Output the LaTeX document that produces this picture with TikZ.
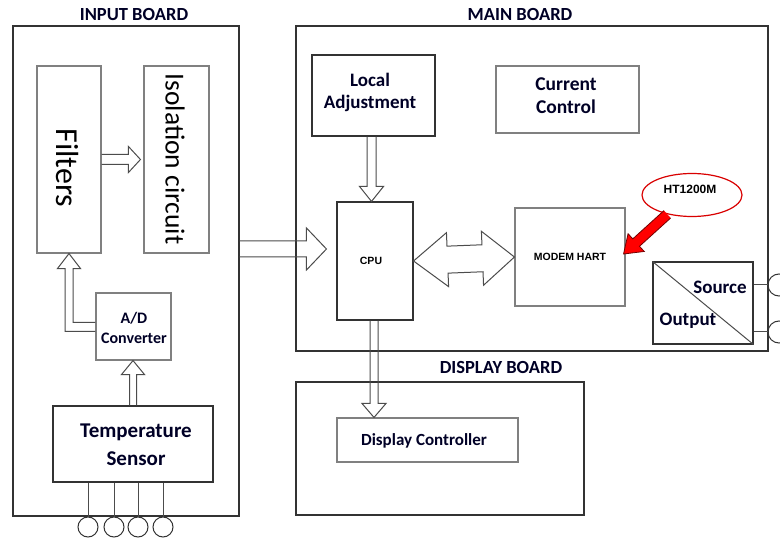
\documentclass[tikz,border=0pt]{standalone}
\usepackage{fontspec}
\setmainfont{Carlito}
\newfontfamily\arialfont{Liberation Sans}
\usetikzlibrary{calc,shapes.geometric}

% hollow block arrow: [style]{start}{tip}{shaft half width}{head half width}{head length}
\newcommand{\blockarrow}[6][]{%
  \coordinate (baS) at #2;
  \coordinate (baE) at #3;
  \coordinate (baH) at ($(baE)!#6!(baS)$);
  \draw[barrow,#1]
    ($(baS)!#4!90:(baE)$) -- ($(baH)!#4!90:(baE)$) -- ($(baH)!#5!90:(baE)$) --
    (baE) -- ($(baH)!#5!-90:(baE)$) -- ($(baH)!#4!-90:(baE)$) -- ($(baS)!#4!-90:(baE)$);
}

\begin{document}
\begin{tikzpicture}[x=1pt,y=-1pt,
  box/.style={draw=black!80, line width=1.1pt, inner sep=0pt, rectangle},
  softbox/.style={box, draw=black!50},
  title/.style={font=\bfseries\fontsize{18.5}{22}\selectfont, inner sep=0pt, text=black!85!blue},
  lbl/.style={font=\bfseries\fontsize{19}{22}\selectfont, align=center, inner sep=0pt, text=black!85!blue},
  chip/.style={font=\arialfont\bfseries\fontsize{10.5}{12}\selectfont, inner sep=0pt},
  barrow/.style={draw=black!70, line width=1pt, line join=miter},
  pin/.style={circle, draw=black!80, line width=1pt, inner sep=0pt},
  lead/.style={draw=black!70, line width=1pt}]

\clip (0,0) rectangle (780,540);
\fill[white] (0,0) rectangle (780,540);

% boards
\node[box, minimum width=226pt, minimum height=490pt] (inb) at (126,271) {};
\node[title] (inbT) at (134,15) {INPUT BOARD};
\node[box, minimum width=472pt, minimum height=325pt] (mainb) at (532,188.5) {};
\node[title] (mainbT) at (520,15) {MAIN BOARD};
\node[box, minimum width=288pt, minimum height=133pt] (dispb) at (440,448.5) {};
\node[title] (dispbT) at (501,367) {DISPLAY BOARD};

% input board blocks
\node[softbox, minimum width=64pt, minimum height=187pt] (filt) at (69,159.5) {};
\node[font=\fontsize{32}{36}\selectfont, rotate=-90, inner sep=0pt] (filtT) at (67,168) {Filters};
\node[softbox, minimum width=65pt, minimum height=187pt] (iso) at (176.5,159.5) {};
\node[font=\fontsize{27.5}{32}\selectfont, rotate=-90, inner sep=0pt] (isoT) at (175,159) {Isolation circuit};
\node[softbox, minimum width=75pt, minimum height=67pt] (ad) at (133.5,326.5) {};
\node[lbl, font=\bfseries\fontsize{16}{20}\selectfont] (adT) at (134,328) {A/D\\Converter};
\node[box, minimum width=160pt, minimum height=76pt] (temp) at (133,444) {};
\node[lbl, font=\bfseries\fontsize{21}{28}\selectfont] (tempT) at (136,445) {Temperature\\Sensor};

% sensor pins
\foreach \i/\x in {1/88,2/114,3/138,4/163}{
  \node[pin, minimum size=20pt] (p\i) at (\x,527) {};
  \draw[lead] (temp.south -| p\i) -- (p\i.north);
}

% main board blocks
\node[box, line width=1.4pt, minimum width=123pt, minimum height=81pt] (loc) at (373.5,95.5) {};
\node[lbl] (locT) at (370,92) {Local\\Adjustment};
\node[softbox, minimum width=143pt, minimum height=67pt] (cur) at (567.5,99.5) {};
\node[lbl, font=\bfseries\fontsize{19.5}{23}\selectfont] (curT) at (566,96) {Current\\Control};
\node[box, minimum width=76pt, minimum height=118pt] (cpu) at (375,261) {};
\node[chip] (cpuT) at (371,261) {CPU};
\node[softbox, minimum width=110pt, minimum height=98pt] (modem) at (570,257) {};
\node[chip] (modemT) at (570,257) {MODEM HART};
\node[box, minimum width=100pt, minimum height=82pt] (so) at (703,303) {};
\draw[lead] (so.north west) -- (so.south east);
\node[lbl] (srcT) at (720,287) {Source};
\node[lbl] (outT) at (688,321) {Output};
\node[pin, minimum size=22pt] (o1) at (779,285) {};
\node[pin, minimum size=22pt] (o2) at (779,332) {};
\draw[lead] (so.east |- o1) -- (o1.west);
\draw[lead] (so.east |- o2) -- (o2.west);
\node[ellipse, draw=red!85!black, line width=1.2pt, minimum width=100pt, minimum height=43pt, inner sep=0pt] (ht) at (692,195) {};
\node[chip, font=\arialfont\bfseries\fontsize{12}{14}\selectfont] (htT) at (690,189) {HT1200M};

% display board block
\node[softbox, minimum width=181pt, minimum height=44pt] (disp) at (427.5,440) {};
\node[lbl, font=\bfseries\fontsize{17}{20}\selectfont] (dispT) at (424,441) {Display Controller};

% hollow arrows
\blockarrow{(filt.east)}{($(iso.west)+(-3,0)$)}{5pt}{13pt}{12pt}
\blockarrow{(temp.north)}{(temp.north |- ad.south)}{3.5pt}{11.5pt}{14pt}
\blockarrow{($(inb.east)+(0,-22)$)}{($(cpu.west)+(-10,-12)$)}{8pt}{21pt}{20pt}
\blockarrow{($(loc.south)+(-2,0)$)}{($(loc.south |- cpu.north)+(-2,0)$)}{4.5pt}{12pt}{15pt}
\blockarrow{($(cpu.south)+(-1,0)$)}{($(cpu.south |- disp.north)+(-1,0)$)}{4pt}{12pt}{14pt}

% L-shaped arrow from the converter up into the filters
\draw[barrow]
  ($(ad.west)+(0,-4)$) -- ($(filt.south |- ad.west)+(4,-4)$) -- ($(filt.south)+(4,15)$) --
  ($(filt.south)+(11.5,15)$) -- (filt.south) -- ($(filt.south)+(-11.5,15)$) --
  ($(filt.south)+(-4,15)$) -- ($(filt.south |- ad.west)+(-4,5)$) -- ($(ad.west)+(0,5)$);

% two-headed arrow between CPU and modem
\coordinate (dL) at (cpu.east);
\coordinate (dR) at (modem.west);
\coordinate (dLh) at ($(dL)!34pt!(dR)$);
\coordinate (dRh) at ($(dR)!32pt!(dL)$);
\draw[barrow] (dL) -- ($(dLh)!27pt!90:(dR)$) -- ($(dLh)!13.5pt!90:(dR)$) --
  ($(dRh)!13.5pt!-90:(dL)$) -- ($(dRh)!27pt!-90:(dL)$) -- (dR) --
  ($(dRh)!27pt!90:(dL)$) -- ($(dRh)!13.5pt!90:(dL)$) --
  ($(dLh)!13.5pt!-90:(dR)$) -- ($(dLh)!27pt!-90:(dR)$) -- cycle;

% red pointer from the HT1200M callout to the modem
\blockarrow[fill=red, draw=red!45!black, line width=0.8pt]{(ht.218)}{($(modem.east)+(-2,-3)$)}{5pt}{12pt}{17pt}
\end{tikzpicture}
\end{document}
